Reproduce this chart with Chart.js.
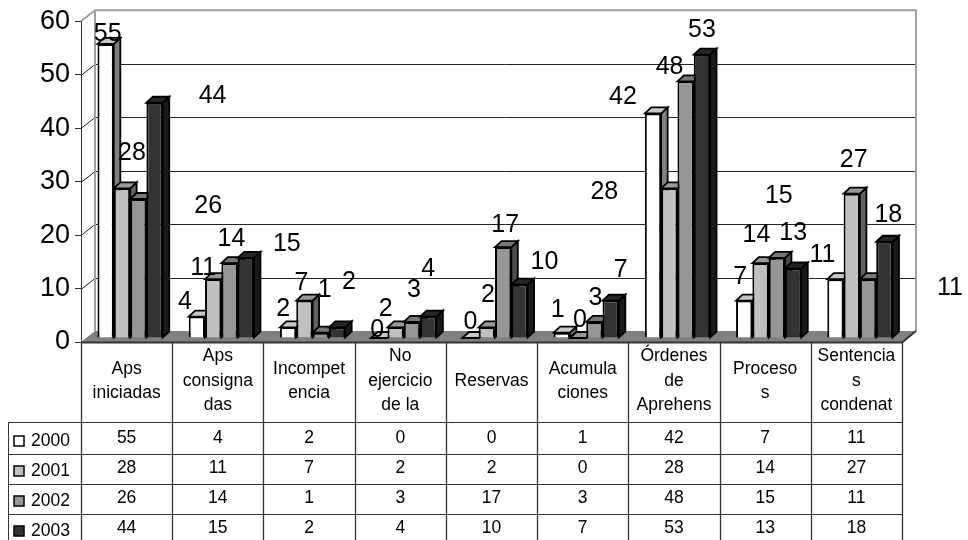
<!DOCTYPE html>
<html lang="es">
<head>
<meta charset="utf-8">
<title>Aps iniciadas 2000-2003</title>
<script src="https://cdn.jsdelivr.net/npm/chart.js@4"></script>
<style>
  body { margin: 0; background: #fff; }
  canvas { display: block; }
</style>
</head>
<body>
<canvas id="grafico" width="968" height="540"></canvas>
<script>
const categorias = [
  ["Aps", "iniciadas"],
  ["Aps", "consigna", "das"],
  ["Incompet", "encia"],
  ["No", "ejercicio", "de la"],
  ["Reservas"],
  ["Acumula", "ciones"],
  ["Órdenes", "de", "Aprehens"],
  ["Proceso", "s"],
  ["Sentencia", "s", "condenat"],
];
const anios = ["2000", "2001", "2002", "2003"];
const valores2000 = [55, 4, 2, 0, 0, 1, 42, 7, 11];
const valores2001 = [28, 11, 7, 2, 2, 0, 28, 14, 27];
const valores2002 = [26, 14, 1, 3, 17, 3, 48, 15, 11];
const valores2003 = [44, 15, 2, 4, 10, 7, 53, 13, 18];
const series = [valores2000, valores2001, valores2002, valores2003];

const colores = ["#ffffff", "#c0c0c0", "#969696", "#333333"];
const coloresTapa = ["#c8c8c8", "#999999", "#777777", "#262626"];
const coloresLado = ["#808080", "#606060", "#4b4b4b", "#1a1a1a"];

// the labels float away from their bars in the original, offsets from the top of each bar
const desvios = [
  [[2, -10], [-12, -15], [-5, -18], [-2, -8], [0, -16], [-4, -23], [-30, -16], [-4, -23], [-13, -24]],
  [[10, -35], [-10, -11], [-3, -17], [-10, -18], [1, -32], [2, -18], [-65, 4], [-4, -28], [2, -34]],
  [[70, 7], [2, -24], [4, -43], [2, -32], [2, -22], [1, -24], [-16, -14], [2, -62], [82, 9]],
  [[58, -7], [41, -14], [12, -45], [0, -48], [25, -22], [10, -30], [0, -25], [0, -35], [4, -27]],
];

const fuente = "'Liberation Sans', Arial, sans-serif";
const fondoX = 14, fondoY = 11; // depth of the back wall
const barraX = 3.5, barraY = -4; // bars stand a bit inside the floor
const profX = 6.5, profY = 6; // depth of a bar
const tablaIzq = 8, tablaEncabezado = 422, filas = [454, 484, 514];

function poligono(ctx, puntos, relleno, borde, ancho) {
  ctx.beginPath();
  puntos.forEach((p, i) => (i ? ctx.lineTo(p[0], p[1]) : ctx.moveTo(p[0], p[1])));
  ctx.closePath();
  ctx.fillStyle = relleno;
  ctx.fill();
  if (borde) {
    ctx.strokeStyle = borde;
    ctx.lineWidth = ancho;
    ctx.stroke();
  }
}

const paredes = {
  id: "paredes",
  beforeDatasetsDraw(chart) {
    const { ctx, chartArea: a, scales } = chart;
    const y0 = scales.y.getPixelForValue(0);
    const y60 = scales.y.getPixelForValue(60);
    ctx.save();
    // floor
    poligono(ctx, [[a.left, y0], [a.left + fondoX, y0 - fondoY], [a.right + fondoX, y0 - fondoY], [a.right, y0]], "#808080");
    // gridlines on side wall and back wall
    ctx.strokeStyle = "#222";
    ctx.lineWidth = 1;
    for (let v = 10; v < 60; v += 10) {
      const y = Math.round(scales.y.getPixelForValue(v)) + 0.5;
      ctx.beginPath();
      ctx.moveTo(a.left, y);
      ctx.lineTo(a.left + fondoX, y - fondoY);
      ctx.lineTo(a.right + fondoX, y - fondoY);
      ctx.stroke();
    }
    // wall outline
    ctx.strokeStyle = "#a0a0a0";
    ctx.lineWidth = 2;
    ctx.beginPath();
    ctx.moveTo(a.left, y60);
    ctx.lineTo(a.left + fondoX, y60 - fondoY);
    ctx.lineTo(a.right + fondoX, y60 - fondoY);
    ctx.lineTo(a.right + fondoX, y0 - fondoY);
    ctx.moveTo(a.left + fondoX, y60 - fondoY);
    ctx.lineTo(a.left + fondoX, y0 - fondoY);
    ctx.stroke();
    ctx.restore();

    // series paint left to right so each one covers the side of the previous one,
    // chart.js would go the other way and "order" also swaps the bar positions
    ctx.save();
    ctx.translate(barraX, barraY);
    series.forEach((serie, s) => {
      const meta = chart.getDatasetMeta(s);
      meta.data.forEach((b) => {
        const der = b.x + b.width / 2;
        const izq = b.x - b.width / 2;
        poligono(ctx, [[der, b.y], [der + profX, b.y - profY], [der + profX, b.base - profY], [der, b.base]], coloresLado[s], "#000", 1.8);
        poligono(ctx, [[izq, b.y], [izq + profX, b.y - profY], [der + profX, b.y - profY], [der, b.y]], coloresTapa[s], "#000", 1.8);
      });
      meta.controller.draw();
    });
    ctx.restore();
  },
  beforeDatasetDraw() {
    return false;
  },
  afterDatasetsDraw(chart) {
    const ctx = chart.ctx;
    ctx.save();
    ctx.font = "25px " + fuente;
    ctx.fillStyle = "#000";
    ctx.textAlign = "center";
    ctx.textBaseline = "middle";
    series.forEach((serie, s) => {
      const meta = chart.getDatasetMeta(s);
      serie.forEach((valor, c) => {
        const b = meta.data[c];
        ctx.fillText(String(valor), b.x + barraX + desvios[s][c][0], b.y + barraY + desvios[s][c][1]);
      });
    });
    ctx.restore();
  },
};

const tabla = {
  id: "tabla",
  afterDraw(chart) {
    const { ctx, chartArea: a, scales, height } = chart;
    const y0 = scales.y.getPixelForValue(0);
    const anchoCat = (a.right - a.left) / categorias.length;
    ctx.save();
    ctx.strokeStyle = "#333";
    // floor front edge
    ctx.lineWidth = 2;
    ctx.beginPath();
    ctx.moveTo(a.left, y0 + 0.5);
    ctx.lineTo(a.right, y0 + 0.5);
    ctx.lineTo(a.right + fondoX, y0 - fondoY);
    ctx.stroke();
    // columns
    ctx.lineWidth = 1.3;
    for (let c = 0; c <= categorias.length; c++) {
      const x = Math.round(a.left + c * anchoCat) + 0.5;
      ctx.beginPath();
      ctx.moveTo(x, y0);
      ctx.lineTo(x, height);
      ctx.stroke();
    }
    // rows
    ctx.lineWidth = 1;
    ctx.beginPath();
    ctx.moveTo(tablaIzq + 0.5, height);
    ctx.lineTo(tablaIzq + 0.5, tablaEncabezado + 0.5);
    ctx.lineTo(a.right, tablaEncabezado + 0.5);
    filas.forEach((y) => {
      ctx.moveTo(tablaIzq, y + 0.5);
      ctx.lineTo(a.right, y + 0.5);
    });
    ctx.stroke();

    ctx.fillStyle = "#000";
    ctx.font = "17.5px " + fuente;
    ctx.textAlign = "center";
    ctx.textBaseline = "middle";
    // category headers
    categorias.forEach((lineas, c) => {
      const x = a.left + (c + 0.5) * anchoCat;
      lineas.forEach((t, l) => {
        ctx.fillText(t, x, 381 + (l - (lineas.length - 1) / 2) * 24.5);
      });
    });
    // values and legend keys
    series.forEach((serie, s) => {
      const y = 438 + s * 30;
      serie.forEach((valor, c) => {
        ctx.fillText(String(valor), a.left + (c + 0.5) * anchoCat, y);
      });
      ctx.textAlign = "left";
      ctx.fillText(anios[s], 31, y + 3);
      ctx.textAlign = "center";
      ctx.fillStyle = colores[s];
      ctx.fillRect(14, y - 2, 10, 10);
      ctx.lineWidth = 1.5;
      ctx.strokeStyle = "#000";
      ctx.strokeRect(14, y - 2, 10, 10);
      ctx.fillStyle = "#000";
    });
    ctx.restore();
  },
};

new Chart(document.getElementById("grafico"), {
  type: "bar",
  data: {
    labels: categorias.map((c) => c.join(" ")),
    datasets: series.map((serie, s) => ({
      label: anios[s],
      data: serie,
      backgroundColor: colores[s],
      borderColor: "#000",
      borderWidth: 2,
      barPercentage: 1,
      categoryPercentage: 0.715,
      clip: false,
    })),
  },
  options: {
    responsive: false,
    animation: false,
    layout: { padding: { top: 20, right: 66, bottom: 198, left: 0 } },
    plugins: { legend: { display: false }, tooltip: { enabled: false } },
    scales: {
      x: { display: false },
      y: {
        min: 0,
        max: 60,
        ticks: { stepSize: 10, color: "#000", padding: 5, font: { family: fuente, size: 27 } },
        grid: { drawOnChartArea: false, tickLength: 6, color: "#333" },
        border: { color: "#333" },
        afterFit(escala) {
          escala.width = 81;
        },
      },
    },
  },
  plugins: [paredes, tabla],
});
</script>
</body>
</html>
